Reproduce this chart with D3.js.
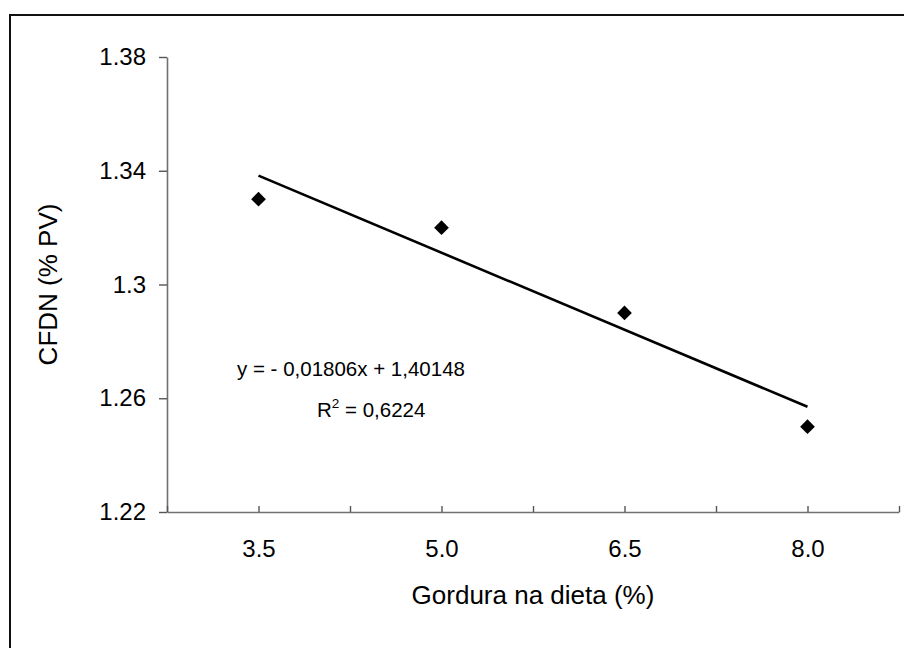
<!DOCTYPE html>
<html>
<head>
<meta charset="utf-8">
<script src="https://cdn.jsdelivr.net/npm/d3@7"></script>
<style>
  html, body { margin: 0; padding: 0; background: #fff; }
  svg text { font-family: "Liberation Sans", Arial, sans-serif; fill: #000; }
</style>
</head>
<body>
<svg id="chart" width="904" height="648"></svg>
<script>
// ---- data ----
const categories = [3.5, 5.0, 6.5, 8.0];
const categoryLabels = ["3.5", "5.0", "6.5", "8.0"];
const cfdnValues = [1.33, 1.32, 1.29, 1.25];
const yTickValues = [1.22, 1.26, 1.30, 1.34, 1.38];
const yTickLabels = ["1.22", "1.26", "1.3", "1.34", "1.38"];
const xTickValues = [2.75, 3.5, 4.25, 5.0, 5.75, 6.5, 7.25, 8.0, 8.75];
const trendCoef = [-0.01806, 1.40148]; // slope, intercept
const equationLines = ["y = - 0,01806x + 1,40148", "= 0,6224"];
const xTitle = "Gordura na dieta (%)";
const yTitle = "CFDN (% PV)";

// ---- layout ----
const svg = d3.select("#chart");
const x = d3.scaleLinear().domain([2.75, 8.75]).range([167, 899]);
const y = d3.scaleLinear().domain([1.22, 1.38]).range([512, 57]);

// outer frame
svg.append("rect")
  .attr("x", 10).attr("y", 15).attr("width", 920).attr("height", 700)
  .attr("fill", "none").attr("stroke", "#111").attr("stroke-width", 2);

// y axis
const yAxis = svg.append("g").attr("transform", `translate(${x(2.75)},0)`)
  .call(d3.axisLeft(y).tickValues(yTickValues)
    .tickFormat((d, i) => yTickLabels[i]).tickSize(8).tickSizeOuter(0).tickPadding(13));
yAxis.select(".domain").attr("stroke", "#707070").attr("stroke-width", 1.6);
yAxis.selectAll(".tick line").attr("stroke", "#555").attr("stroke-width", 1.4);
yAxis.selectAll(".tick text").attr("font-size", 24).attr("font-family", "Liberation Sans, Arial, sans-serif").attr("fill", "#000");

// x axis
const xAxis = svg.append("g").attr("transform", `translate(0,${y(1.22)})`)
  .call(d3.axisBottom(x).tickValues(xTickValues)
    .tickFormat(d => { const i = categories.indexOf(d); return i >= 0 ? categoryLabels[i] : ""; })
    .tickSize(-6).tickSizeOuter(0).tickPadding(0));
xAxis.select(".domain").attr("stroke", "#707070").attr("stroke-width", 1.6);
xAxis.selectAll(".tick line").attr("stroke", "#555").attr("stroke-width", 1.4);
xAxis.selectAll(".tick text").attr("font-size", 24).attr("font-family", "Liberation Sans, Arial, sans-serif")
  .attr("fill", "#000").attr("dy", null).attr("y", 45);

// trend line
const line = d3.line().x(d => x(d)).y(d => y(trendCoef[0] * d + trendCoef[1]));
svg.append("path")
  .datum([categories[0], categories[categories.length - 1]])
  .attr("d", line).attr("fill", "none").attr("stroke", "#000").attr("stroke-width", 2.6);

// points (diamonds)
const sym = d3.symbol().type(d3.symbolSquare).size(108);
svg.selectAll(".pt").data(categories).enter().append("path")
  .attr("class", "pt")
  .attr("d", sym)
  .attr("transform", (d, i) => `translate(${x(d)},${y(cfdnValues[i])}) rotate(45)`)
  .attr("fill", "#000");

// equation
svg.append("text").attr("x", 237).attr("y", 376).attr("font-size", 20.5).text(equationLines[0]);
const r2 = svg.append("text").attr("x", 317).attr("y", 417).attr("font-size", 20.5);
r2.append("tspan").text("R");
r2.append("tspan").attr("font-size", 13.5).attr("dy", -9).text("2");
r2.append("tspan").attr("dy", 9).text(" " + equationLines[1]);

// axis titles
svg.append("text").attr("x", (x(2.75) + x(8.75)) / 2).attr("y", 604)
  .attr("text-anchor", "middle").attr("font-size", 26).text(xTitle);
svg.append("text").attr("transform", `translate(57,${(y(1.22) + y(1.38)) / 2}) rotate(-90)`)
  .attr("text-anchor", "middle").attr("font-size", 26).text(yTitle);
</script>
</body>
</html>
